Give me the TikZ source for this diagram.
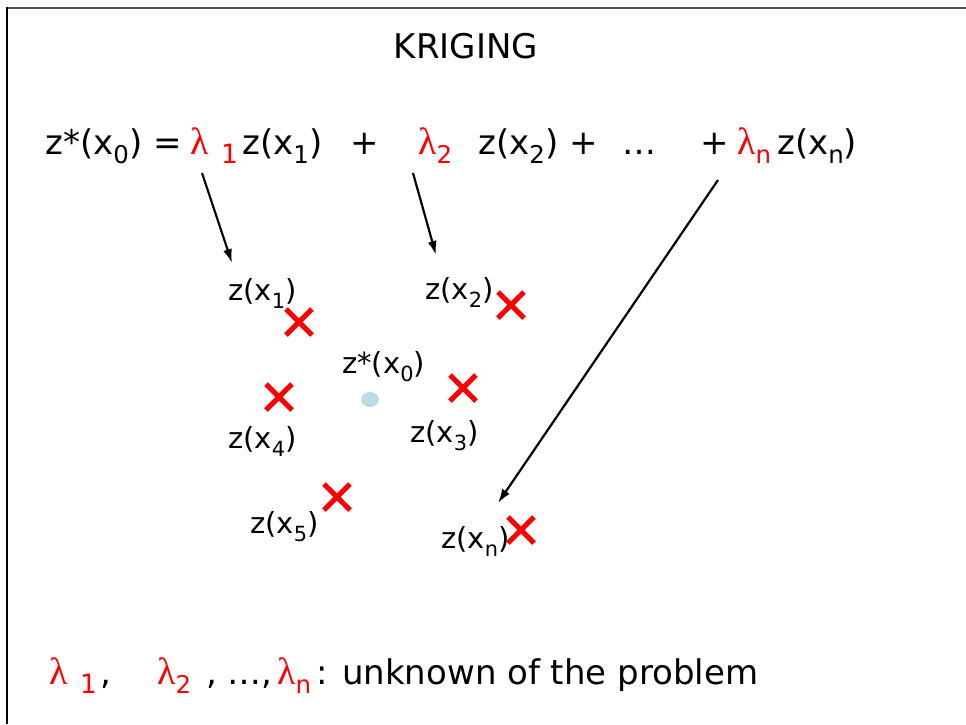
\documentclass[tikz,border=0pt]{standalone}
\usepackage{fontspec}
\usepackage{graphicx}
\setmainfont{DejaVu Sans}
\newfontfamily\lamfont{Liberation Serif}
\usetikzlibrary{shapes.misc,shapes.geometric,arrows.meta}
\newcommand\lo[1]{\raisebox{-0.28em}{\scalebox{0.72}{#1}}}
\newcommand\lam{{\lamfont\fontsize{38}{40}\selectfont λ}}
\definecolor{dotblue}{RGB}{182,222,226}
\definecolor{framegray}{RGB}{80,80,80}
\tikzset{
  big/.style={font=\fontsize{34}{40}\selectfont, inner sep=0pt, anchor=base west},
  redbig/.style={big, text=red},
  lbl/.style={font=\fontsize{29}{34}\selectfont, inner sep=0pt, anchor=base west},
  xmark/.style={cross out, draw=red, line width=5pt, minimum size=21pt, inner sep=0pt},
  arr/.style={line width=2.2pt, -{Latex[length=14pt,width=9pt]}},
}
\begin{document}
\begin{tikzpicture}[x=1pt,y=-1pt]
\useasboundingbox (0,0) rectangle (966,724);
\draw[framegray, line width=2pt] (6,8.3) -- (966,8.3);
\draw[black, line width=1.5pt] (7,724) -- (7,7.3);
% title
\node[font=\fontsize{34}{40}\selectfont, inner sep=0pt, anchor=base] (title) at (466,58) {KRIGING};
% equation
\node[big] (e0) at (45,154) {z*(x\lo{0}) =};
\node[redbig] (l1) at (190,154) {\lam};
\node[redbig] (l1s) at (221,163) {\scalebox{0.78}{1}};
\node[big] (e1) at (242,154) {z(x\lo{1})};
\node[big] (p1) at (350,154) {+};
\node[redbig] (l2) at (418,154) {\lam\lo{2}};
\node[big] (e2) at (478,154) {z(x\lo{2}) +};
\node[big] (dots) at (622,154) {…};
\node[big] (p3) at (700,154) {+};
\node[redbig] (ln) at (737,154) {\lam\lo{n}};
\node[big] (en) at (777,154) {z(x\lo{n})};
% labels
\node[lbl] (z1) at (228,300) {z(x\lo{1})};
\node[lbl] (z2) at (425,299) {z(x\lo{2})};
\node[lbl] (z0) at (342,373) {z*(x\lo{0})};
\node[lbl] (z3) at (410,442) {z(x\lo{3})};
\node[lbl] (z4) at (228,448) {z(x\lo{4})};
\node[lbl] (z5) at (250,533) {z(x\lo{5})};
\node[lbl] (zn) at (441,548) {z(x\lo{n})};
% crosses
\node[xmark] (c1) at (299,322) {};
\node[xmark] (c2) at (511,305) {};
\node[xmark] (c3) at (463,388) {};
\node[xmark] (c4) at (279,397) {};
\node[xmark] (c5) at (337,497) {};
\node[xmark] (cn) at (521,530) {};
% estimation point
\node[ellipse, fill=dotblue, minimum width=18pt, minimum height=15pt, inner sep=0pt] (x0) at (370,399.5) {};
% arrows
\coordinate (a1s) at (202,173);
\coordinate (a1e) at (232,263);
\coordinate (a2s) at (413,173);
\coordinate (a2e) at (436,255);
\coordinate (a3s) at (718,180);
\coordinate (a3e) at (498,503);
\draw[arr] (a1s) -- (a1e);
\draw[arr] (a2s) -- (a2e);
\draw[arr] (a3s) -- (a3e);
% bottom line
\node[redbig] (b1) at (49,684) {\lam};
\node[redbig] (b1s) at (80,693) {\scalebox{0.78}{1}};
\node[big] (bc1) at (100,684) {,};
\node[redbig] (b2) at (157,684) {\lam\lo{2}};
\node[big] (bc2) at (206,684) {, …,};
\node[redbig] (bn) at (277,684) {\lam\lo{n}};
\node[big] (btxt) at (316,684) {: unknown of the problem};
\end{tikzpicture}
\end{document}
